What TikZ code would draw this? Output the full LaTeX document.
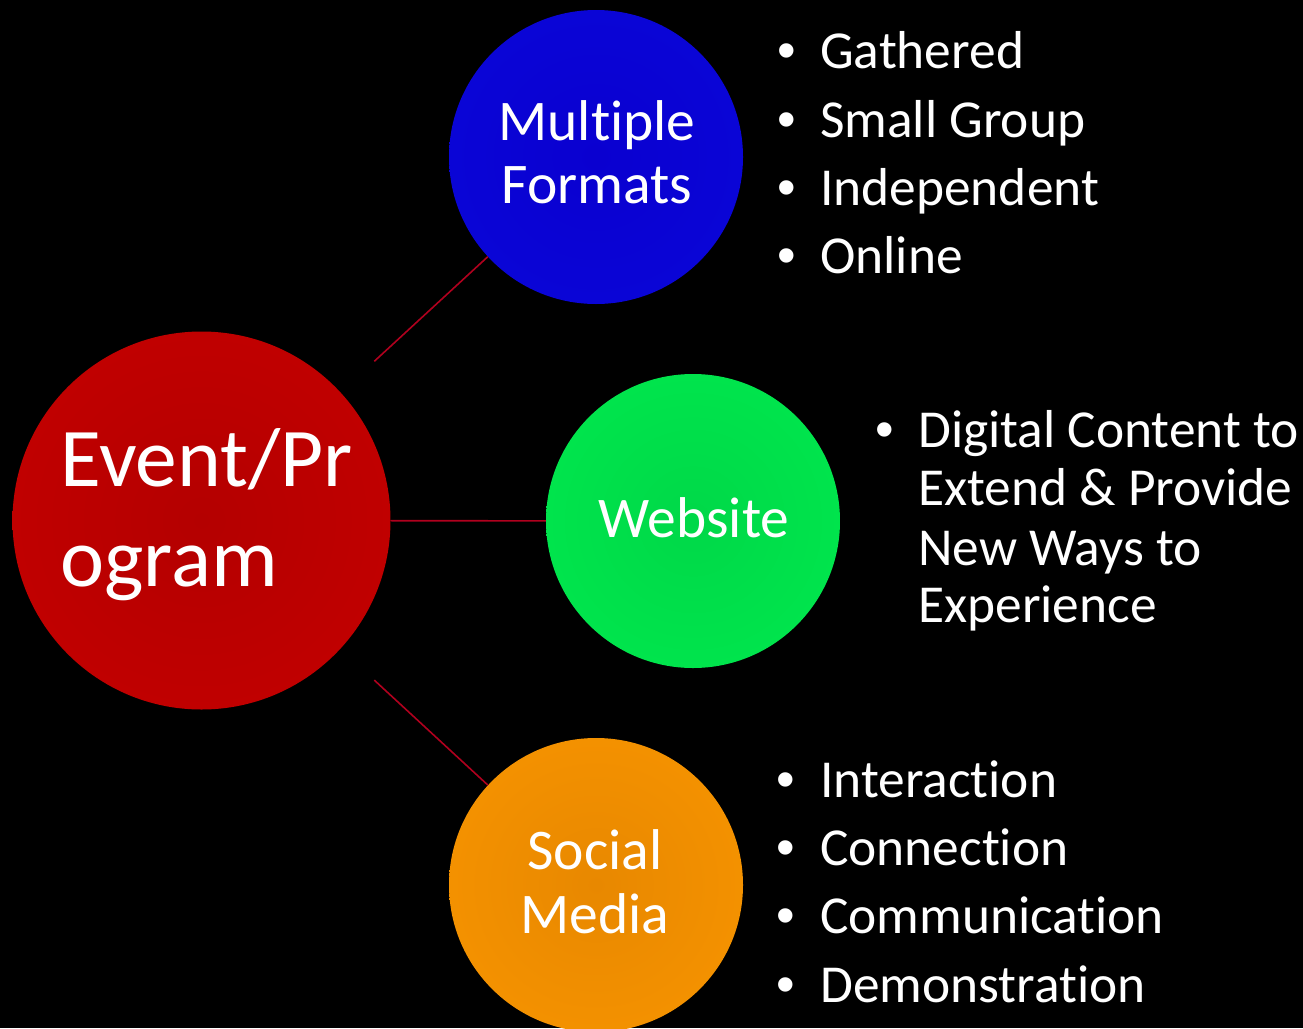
\documentclass[tikz,border=0pt]{standalone}
\usepackage{fontspec}
\setmainfont{Carlito}[Ligatures=NoCommon]
\newfontfamily\bulletfont{Liberation Sans}
\usetikzlibrary{calc}
\definecolor{redC}{HTML}{B40000}
\definecolor{redE}{HTML}{CC0000}
\definecolor{blueC}{HTML}{0A00D0}
\definecolor{blueE}{HTML}{0A0ADC}
\definecolor{greenC}{HTML}{00D848}
\definecolor{greenE}{HTML}{00F050}
\definecolor{orangeC}{HTML}{E88800}
\definecolor{orangeE}{HTML}{FF9A00}
\definecolor{connC}{HTML}{B0001E}
\pgfdeclareradialshading{redsh}{\pgfpoint{0bp}{0bp}}{color(0bp)=(redC); color(50bp)=(redE); color(72bp)=(redE)}
\pgfdeclareradialshading{bluesh}{\pgfpoint{0bp}{0bp}}{color(0bp)=(blueC); color(50bp)=(blueE); color(72bp)=(blueE)}
\pgfdeclareradialshading{greensh}{\pgfpoint{0bp}{0bp}}{color(0bp)=(greenC); color(50bp)=(greenE); color(72bp)=(greenE)}
\pgfdeclareradialshading{orangesh}{\pgfpoint{0bp}{0bp}}{color(0bp)=(orangeC); color(50bp)=(orangeE); color(72bp)=(orangeE)}
\begin{document}
\begin{tikzpicture}[x=1pt,y=-1pt,
  bigcirc/.style={circle, inner sep=0pt, minimum size=#1},
  conn/.style={draw=connC, line width=1.6pt},
  redtxt/.style={text=white, inner sep=0pt, anchor=base west, font=\fontsize{83.5}{83.5}\selectfont},
  circtxt/.style={text=white, inner sep=0pt, anchor=base, font=\fontsize{57.5}{57.5}\selectfont},
  itemtxt/.style={text=white, inner sep=0pt, anchor=base west, font=\fontsize{53.4}{53.4}\selectfont},
  bul/.style={text=white, inner sep=0pt, anchor=base, font=\bulletfont\fontsize{53}{53}\selectfont}]
\fill[black] (0,0) rectangle (1303,1028);
\clip (0,0) rectangle (1303,1028);
% circles
\node[bigcirc=378pt, shading=redsh] (red) at (201.5,520.5) {};
\node[bigcirc=294pt, shading=bluesh] (blue) at (596,157) {};
\node[bigcirc=294pt, shading=greensh] (green) at (693,521) {};
\node[bigcirc=294pt, shading=orangesh] (orange) at (596,885) {};
% connectors
\coordinate (s1) at ($(red.center)!0.438!(blue.center)$);
\coordinate (s3) at ($(red.center)!0.438!(orange.center)$);
\draw[conn] (s1) -- (blue);
\draw[conn] (red) -- (green);
\draw[conn] (s3) -- (orange);
% circle labels
\node[redtxt] (ev1) at (60,486) {Event/Pr};
\node[redtxt] (ev2) at (60,586) {ogram};
\node[circtxt] (mf1) at (597,140) {Multiple};
\node[circtxt] (mf2) at (597,203) {Formats};
\node[circtxt] (web) at (694,537) {Website};
\node[circtxt] (sm1) at (595,869) {Social};
\node[circtxt] (sm2) at (595,933) {Media};
% top bullets
\node[bul] (tb1) at (787,68) {•};
\node[bul] (tb2) at (787,137) {•};
\node[bul] (tb3) at (787,205) {•};
\node[bul] (tb4) at (787,273) {•};
\node[itemtxt] (t1) at (820,68) {Gathered};
\node[itemtxt] (t2) at (820,137) {Small Group};
\node[itemtxt] (t3) at (820,205) {Independent};
\node[itemtxt] (t4) at (820,273) {Online};
% middle bullet
\node[bul] (mb1) at (884.5,447) {•};
\node[itemtxt] (m1) at (918,447) {Digital Content to};
\node[itemtxt] (m2) at (918,505) {Extend \& Provide};
\node[itemtxt] (m3) at (918,565) {New Ways to};
\node[itemtxt] (m4) at (918,622) {Experience};
% bottom bullets
\node[bul] (bb1) at (786,797) {•};
\node[bul] (bb2) at (786,865) {•};
\node[bul] (bb3) at (786,933) {•};
\node[bul] (bb4) at (786,1002) {•};
\node[itemtxt] (b1) at (820,797) {Interaction};
\node[itemtxt] (b2) at (820,865) {Connection};
\node[itemtxt] (b3) at (820,933) {Communication};
\node[itemtxt] (b4) at (820,1002) {Demonstration};
\end{tikzpicture}
\end{document}
